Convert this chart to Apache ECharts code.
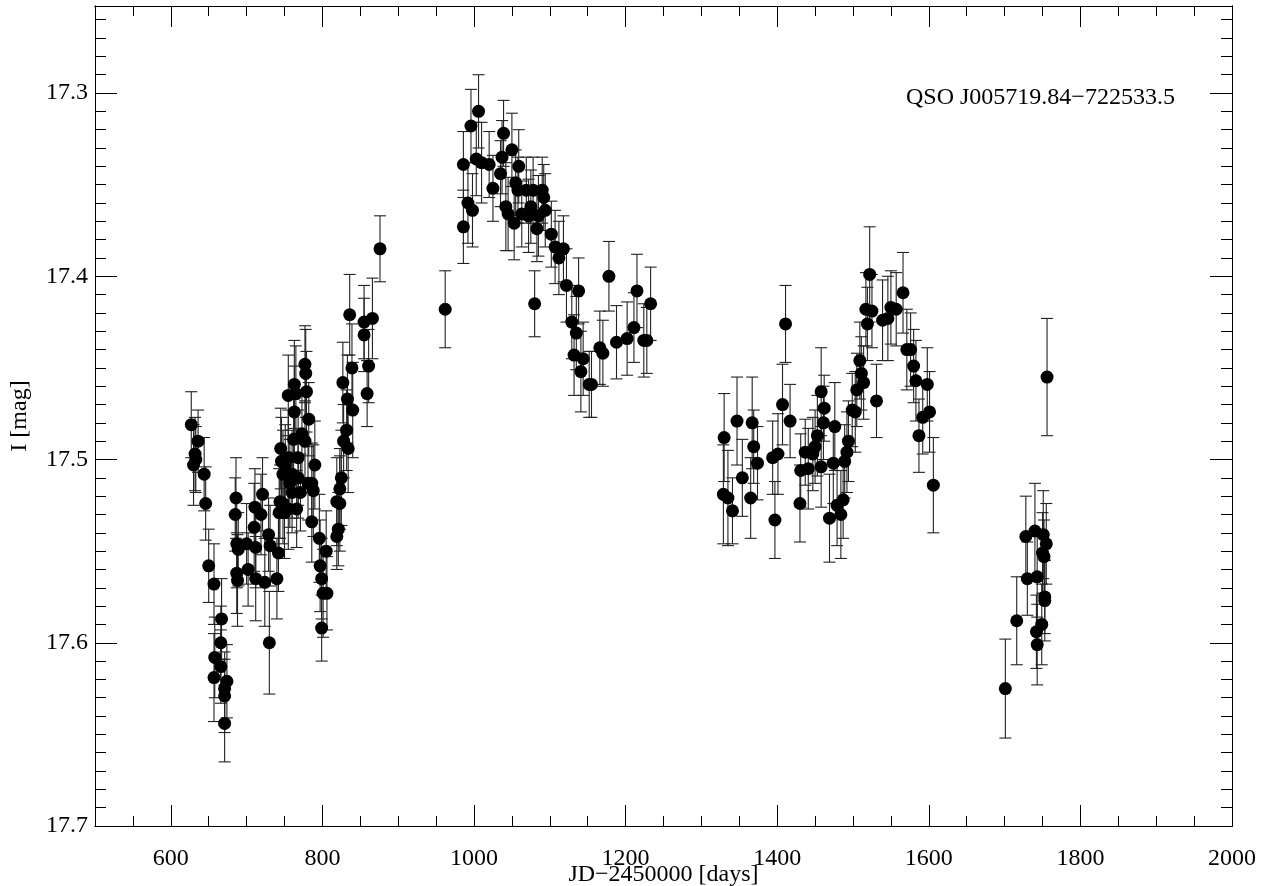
<!DOCTYPE html>
<html>
<head>
<meta charset="UTF-8">
<title>QSO J005719.84-722533.5</title>
<script src="https://cdn.jsdelivr.net/npm/echarts@6.0.0/dist/echarts.min.js"></script>
<style>
  html, body { margin: 0; padding: 0; background: #fff; }
  #chart { width: 1263px; height: 886px; }
</style>
</head>
<body>
<div id="chart"></div>
<script>
// JD-2450000 [days]
var jdDays = [
  627, 636, 632, 633, 630, 644, 646, 650, 657, 667, 666, 658, 666, 657, 674, 671, 671, 671,
  686, 685, 687, 689, 687, 688, 700, 702, 711, 710, 712, 712, 721, 719, 724, 730, 729, 731, 742, 740,
  745, 746, 755, 751, 748, 744, 748, 743, 750, 755, 766, 755, 763, 765, 777, 778, 779, 782, 763, 762,
  773, 777, 768, 760, 768, 781, 790, 786, 788, 760, 771, 757, 786, 796, 805, 797, 799, 806, 801, 799,
  876, 836, 855, 866, 855, 839, 861, 859, 827, 833, 840, 832, 828, 834, 825, 823, 819, 823, 821, 819,
  962, 986, 986, 992, 998, 996, 1006, 1003, 1010, 1020, 1025, 1039, 1037, 1035, 1050, 1059, 1042, 1045,
  1053, 1055, 1058, 1069, 1078, 1090, 1092, 1075, 1063, 1072, 1085, 1094, 1083, 1080, 1102, 1107, 1118,
  1112, 1122, 1138, 1178, 1129, 1135, 1132, 1144, 1141, 1152, 1155, 1166, 1170, 1188, 1202, 1211, 1215,
  1224, 1228, 1233,
  1330, 1329, 1335, 1341, 1347, 1354, 1367, 1369, 1374, 1365, 1394, 1401, 1397, 1407, 1411, 1417, 1430,
  1431, 1441, 1437, 1447, 1450, 1453, 1458, 1461, 1462, 1458, 1469, 1474, 1476, 1479, 1484, 1487, 1489,
  1492, 1494, 1499, 1503, 1505, 1514, 1511, 1509, 1522, 1517, 1525, 1519, 1531, 1539, 1546, 1550, 1557,
  1566, 1571, 1576, 1580, 1583, 1598, 1592, 1601, 1587, 1606,
  1756, 1701, 1716, 1728, 1740, 1730, 1743, 1751, 1755, 1750, 1752, 1753, 1753, 1749, 1742, 1743
];
// I [mag]
var iMag = [
  17.481, 17.490, 17.497, 17.500, 17.503, 17.508, 17.524, 17.558, 17.568, 17.587, 17.600, 17.608, 17.613, 17.619, 17.621, 17.625, 17.629, 17.644,
  17.521, 17.530, 17.546, 17.549, 17.562, 17.566, 17.546, 17.560, 17.526, 17.537, 17.548, 17.565, 17.519, 17.530, 17.567, 17.600, 17.541, 17.547, 17.551, 17.565,
  17.494, 17.501, 17.499, 17.503, 17.508, 17.523, 17.524, 17.529, 17.529, 17.527, 17.527, 17.465, 17.459, 17.464, 17.448, 17.453, 17.463, 17.478, 17.474, 17.489,
  17.486, 17.490, 17.499, 17.508, 17.510, 17.513, 17.503, 17.513, 17.517, 17.518, 17.518, 17.513, 17.534, 17.543, 17.550, 17.558, 17.565, 17.573, 17.573, 17.592,
  17.385, 17.421, 17.425, 17.423, 17.432, 17.450, 17.449, 17.464, 17.458, 17.467, 17.473, 17.484, 17.490, 17.494, 17.510, 17.516, 17.523, 17.524, 17.538, 17.542,
  17.418, 17.373, 17.339, 17.360, 17.364, 17.318, 17.310, 17.336, 17.338, 17.339, 17.352, 17.322, 17.335, 17.344, 17.331, 17.340, 17.362, 17.366,
  17.371, 17.349, 17.353, 17.353, 17.353, 17.353, 17.357, 17.362, 17.366, 17.367, 17.367, 17.364, 17.374, 17.415, 17.377, 17.384, 17.385,
  17.390, 17.405, 17.408, 17.400, 17.425, 17.431, 17.443, 17.445, 17.452, 17.459, 17.459, 17.439, 17.442, 17.436, 17.434, 17.428, 17.408,
  17.435, 17.435, 17.415,
  17.488, 17.519, 17.521, 17.528, 17.479, 17.510, 17.480, 17.493, 17.502, 17.521, 17.499, 17.497, 17.533, 17.470, 17.426, 17.479, 17.524,
  17.506, 17.505, 17.496, 17.497, 17.493, 17.487, 17.504, 17.480, 17.472, 17.463, 17.532, 17.502, 17.482, 17.525, 17.530, 17.522, 17.501,
  17.496, 17.490, 17.473, 17.474, 17.462, 17.458, 17.453, 17.446, 17.399, 17.418, 17.419, 17.426, 17.468, 17.424, 17.423, 17.417, 17.418,
  17.409, 17.440, 17.440, 17.449, 17.457, 17.459, 17.477, 17.474, 17.487, 17.514,
  17.455, 17.625, 17.588, 17.542, 17.539, 17.565, 17.564, 17.541, 17.546, 17.551, 17.553, 17.575, 17.577, 17.590, 17.594, 17.601
];
// 1-sigma errors [mag]
var iErr = [
  0.018, 0.017, 0.020, 0.018, 0.022, 0.020, 0.020, 0.020, 0.022, 0.022, 0.020, 0.022, 0.020, 0.024, 0.020, 0.020, 0.020, 0.021,
  0.022, 0.020, 0.024, 0.020, 0.022, 0.025, 0.022, 0.020, 0.021, 0.024, 0.022, 0.023, 0.020, 0.022, 0.024, 0.028, 0.020, 0.022, 0.021, 0.022,
  0.022, 0.024, 0.026, 0.022, 0.024, 0.020, 0.022, 0.024, 0.025, 0.022, 0.021, 0.022, 0.024, 0.026, 0.021, 0.024, 0.022, 0.020, 0.025, 0.022,
  0.024, 0.022, 0.026, 0.024, 0.022, 0.020, 0.024, 0.022, 0.025, 0.022, 0.021, 0.024, 0.022, 0.024, 0.022, 0.025, 0.022, 0.020, 0.024, 0.018,
  0.018, 0.022, 0.020, 0.022, 0.020, 0.024, 0.020, 0.018, 0.022, 0.024, 0.026, 0.022, 0.020, 0.024, 0.026, 0.022, 0.024, 0.026, 0.020, 0.018,
  0.021, 0.020, 0.018, 0.022, 0.020, 0.020, 0.020, 0.020, 0.022, 0.018, 0.018, 0.018, 0.020, 0.018, 0.020, 0.020, 0.024, 0.020,
  0.020, 0.018, 0.018, 0.018, 0.018, 0.018, 0.018, 0.020, 0.018, 0.020, 0.022, 0.020, 0.018, 0.018, 0.018, 0.020, 0.018,
  0.020, 0.020, 0.018, 0.019, 0.020, 0.020, 0.022, 0.020, 0.022, 0.018, 0.018, 0.020, 0.018, 0.020, 0.020, 0.019, 0.020,
  0.020, 0.018, 0.020,
  0.024, 0.027, 0.026, 0.018, 0.024, 0.021, 0.025, 0.020, 0.020, 0.022, 0.020, 0.022, 0.021, 0.022, 0.021, 0.020, 0.021,
  0.020, 0.022, 0.018, 0.020, 0.020, 0.022, 0.022, 0.020, 0.018, 0.024, 0.024, 0.022, 0.024, 0.022, 0.024, 0.021, 0.020,
  0.022, 0.022, 0.020, 0.022, 0.020, 0.020, 0.020, 0.021, 0.026, 0.020, 0.020, 0.020, 0.020, 0.022, 0.023, 0.020, 0.020,
  0.022, 0.022, 0.020, 0.020, 0.022, 0.020, 0.020, 0.022, 0.020, 0.026,
  0.032, 0.027, 0.024, 0.022, 0.026, 0.020, 0.022, 0.024, 0.022, 0.022, 0.020, 0.020, 0.022, 0.022, 0.020, 0.022
];

var xMajorTicks = [600, 800, 1000, 1200, 1400, 1600, 1800, 2000];
var xMinorTicks = [550, 650, 700, 750, 850, 900, 950, 1050, 1100, 1150, 1250, 1300, 1350,
                   1450, 1500, 1550, 1650, 1700, 1750, 1850, 1900, 1950];
var yMajorTicks = [17.3, 17.4, 17.5, 17.6, 17.7];
var yMinorTicks = [];
for (var k = 1726; k <= 1769; k++) {
  if (k % 10 !== 0) yMinorTicks.push(k / 100);
}

var FONT = 'Liberation Serif';
var X_MIN = 500, X_MAX = 2000;
var Y_MIN = 17.2525, Y_MAX = 17.7;

var points = jdDays.map(function (d, i) { return [d, iMag[i]]; });
var bars = jdDays.map(function (d, i) { return [d, iMag[i] - iErr[i], iMag[i] + iErr[i]]; });

function xAxisDef(pos, ticks, len, withLabels) {
  return {
    type: 'value', position: pos, min: X_MIN, max: X_MAX,
    axisLine: { show: true, onZero: false, lineStyle: { color: '#000', width: 1 } },
    axisTick: { show: true, inside: true, length: len, customValues: ticks,
                lineStyle: { color: '#000', width: 1 } },
    axisLabel: withLabels ? {
      show: true, customValues: xMajorTicks, margin: 21,
      fontFamily: FONT, fontSize: 24, color: '#000',
      formatter: function (v) { return String(v); }
    } : { show: false },
    splitLine: { show: false },
    name: withLabels ? 'JD\u22122450000 [days]' : '',
    nameLocation: 'middle', nameGap: 37, nameMoveOverlap: false,
    nameTextStyle: { fontFamily: FONT, fontSize: 24, color: '#000' }
  };
}

function yAxisDef(pos, ticks, len, withLabels) {
  return {
    type: 'value', position: pos, min: Y_MIN, max: Y_MAX, inverse: true,
    axisLine: { show: true, onZero: false, lineStyle: { color: '#000', width: 1 } },
    axisTick: { show: true, inside: true, length: len, customValues: ticks,
                lineStyle: { color: '#000', width: 1 } },
    axisLabel: withLabels ? {
      show: true, customValues: yMajorTicks, margin: 7,
      fontFamily: FONT, fontSize: 24, color: '#000',
      formatter: function (v) { return v.toFixed(1); }
    } : { show: false },
    splitLine: { show: false },
    name: withLabels ? 'I [mag]' : '',
    nameLocation: 'middle', nameGap: 63, nameMoveOverlap: false,
    nameTextStyle: { fontFamily: FONT, fontSize: 24, color: '#000' }
  };
}

// vertical error bar with small caps
function renderErrorBar(params, api) {
  var x = api.value(0);
  var top = api.coord([x, api.value(1)]);
  var bot = api.coord([x, api.value(2)]);
  var hw = 6;
  var style = { stroke: '#222', lineWidth: 1.1 };
  return {
    type: 'group',
    children: [
      { type: 'line', shape: { x1: top[0], y1: top[1], x2: bot[0], y2: bot[1] }, style: style },
      { type: 'line', shape: { x1: top[0] - hw, y1: top[1], x2: top[0] + hw, y2: top[1] }, style: style },
      { type: 'line', shape: { x1: bot[0] - hw, y1: bot[1], x2: bot[0] + hw, y2: bot[1] }, style: style }
    ]
  };
}

var chart = echarts.init(document.getElementById('chart'), null, { renderer: 'canvas' });
chart.setOption({
  animation: false,
  backgroundColor: '#fff',
  title: {
    text: 'QSO J005719.84\u2212722533.5',
    left: 906, top: 86, padding: 0,
    textStyle: { fontFamily: FONT, fontSize: 24, fontWeight: 'normal', color: '#000' }
  },
  grid: { left: 95, right: 31, top: 6, bottom: 60, containLabel: false, outerBoundsMode: 'none' },
  xAxis: [
    xAxisDef('bottom', xMajorTicks, 21, true),
    xAxisDef('bottom', xMinorTicks, 10, false),
    xAxisDef('top', xMajorTicks, 21, false),
    xAxisDef('top', xMinorTicks, 10, false)
  ],
  yAxis: [
    yAxisDef('left', yMajorTicks, 22, true),
    yAxisDef('left', yMinorTicks, 11, false),
    yAxisDef('right', yMajorTicks, 22, false),
    yAxisDef('right', yMinorTicks, 11, false)
  ],
  series: [
    {
      type: 'custom', name: 'err', xAxisIndex: 0, yAxisIndex: 0,
      renderItem: renderErrorBar, data: bars, z: 2, silent: true
    },
    {
      type: 'scatter', name: 'I', xAxisIndex: 0, yAxisIndex: 0,
      data: points, symbol: 'circle', symbolSize: 13,
      itemStyle: { color: '#000', opacity: 1 }, z: 3, silent: true
    }
  ]
});
</script>
</body>
</html>
